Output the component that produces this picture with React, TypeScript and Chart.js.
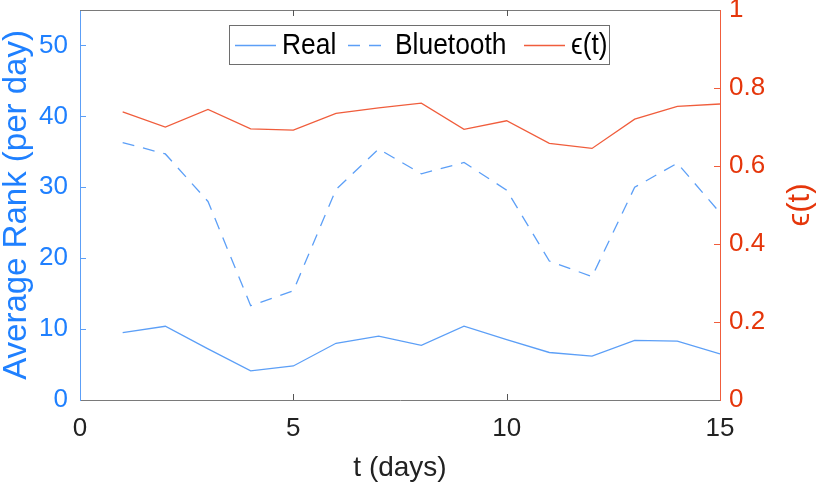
import React, { useEffect, useRef } from 'react';
import { Chart, registerables } from 'chart.js';

Chart.register(...registerables);

const days = [1, 2, 3, 4, 5, 6, 7, 8, 9, 10, 11, 12, 13, 14, 15];
const realRank = [9.5, 10.4, 7.2, 4.1, 4.8, 8.0, 9.0, 7.7, 10.4, 8.5, 6.7, 6.2, 8.4, 8.3, 6.5];
const bluetoothRank = [36.3, 34.7, 28.0, 13.3, 15.4, 29.7, 35.4, 31.9, 33.5, 29.6, 19.6, 17.4, 30.0, 33.4, 26.4];
const epsilonValues = [0.739, 0.7, 0.745, 0.695, 0.692, 0.735, 0.749, 0.761, 0.694, 0.716, 0.658, 0.645, 0.72, 0.753, 0.759];
const xTicks = [0, 5, 10, 15];
const leftTicks = [0, 10, 20, 30, 40, 50];
const rightTicks = [0, 0.2, 0.4, 0.6, 0.8, 1];
const seriesLabels = ['Real', 'Bluetooth', 'ϵ(t)'];

const BLUE_TEXT = '#1f80ff';
const BLUE_LINE = '#5c9ff7';
const RED_TEXT = '#e5360b';
const RED_LINE = '#f05d3c';
const FONT = '"Liberation Sans", Arial, Helvetica, sans-serif';

const zeroPad = (s: any) => {
  s.paddingTop = 0;
  s.paddingBottom = 0;
  s.paddingLeft = 0;
  s.paddingRight = 0;
};

const decorPlugin = {
  id: 'decor',
  afterDraw(chart: any) {
    const { ctx, chartArea, scales } = chart;
    const { left, right, top, bottom } = chartArea;
    ctx.save();
    // top border
    ctx.strokeStyle = '#7a7a7a';
    ctx.lineWidth = 1;
    ctx.beginPath();
    ctx.moveTo(left, top + 0.5);
    ctx.lineTo(right, top + 0.5);
    ctx.stroke();
    // inward ticks
    const tl = 6;
    ctx.strokeStyle = '#555';
    xTicks.forEach((v) => {
      const px = Math.round(scales.x.getPixelForValue(v)) + 0.5;
      if (px <= left + 1 || px >= right - 1) return;
      ctx.beginPath();
      ctx.moveTo(px, bottom);
      ctx.lineTo(px, bottom - tl);
      ctx.moveTo(px, top);
      ctx.lineTo(px, top + tl);
      ctx.stroke();
    });
    ctx.strokeStyle = BLUE_LINE;
    leftTicks.forEach((v) => {
      const py = Math.round(scales.y.getPixelForValue(v)) + 0.5;
      if (py >= bottom - 1) return;
      ctx.beginPath();
      ctx.moveTo(left, py);
      ctx.lineTo(left + tl, py);
      ctx.stroke();
    });
    ctx.strokeStyle = RED_LINE;
    rightTicks.forEach((v) => {
      const py = Math.round(scales.y1.getPixelForValue(v)) + 0.5;
      if (py >= bottom - 1 || py <= top + 1) return;
      ctx.beginPath();
      ctx.moveTo(right, py);
      ctx.lineTo(right - tl, py);
      ctx.stroke();
    });

    // right axis title, reading bottom to top
    ctx.fillStyle = RED_TEXT;
    ctx.font = `31px ${FONT}`;
    ctx.textAlign = 'center';
    ctx.textBaseline = 'middle';
    ctx.translate(800, (top + bottom) / 2);
    ctx.rotate(-Math.PI / 2);
    ctx.fillText(seriesLabels[2], 0, 0);
    ctx.restore();

    // legend
    ctx.save();
    const bx = 229.5, by = 25.5, bw = 380, bh = 39;
    ctx.fillStyle = '#fff';
    ctx.fillRect(bx, by, bw, bh);
    ctx.strokeStyle = '#6e6e6e';
    ctx.lineWidth = 1;
    ctx.strokeRect(bx, by, bw, bh);
    const starts = [235, 348, 524];
    const ly = 45;
    chart.data.datasets.forEach((ds: any, i: number) => {
      const x0 = starts[i];
      ctx.strokeStyle = ds.borderColor;
      ctx.lineWidth = 1.3;
      ctx.setLineDash(ds.borderDash || []);
      ctx.beginPath();
      ctx.moveTo(x0, ly + 0.5);
      ctx.lineTo(x0 + 41, ly + 0.5);
      ctx.stroke();
      ctx.setLineDash([]);
      ctx.save();
      ctx.translate(x0 + 47, ly + 1);
      ctx.scale(0.88, 1);
      ctx.font = `30px ${FONT}`;
      ctx.textAlign = 'left';
      ctx.textBaseline = 'middle';
      ctx.fillStyle = '#000';
      ctx.fillText(ds.label, 0, 0);
      ctx.restore();
    });
    ctx.restore();
  },
};

export default function App() {
  const ref = useRef<HTMLCanvasElement>(null);
  useEffect(() => {
    document.body.style.margin = '0';
    const toPts = (ys: number[]) => days.map((d, i) => ({ x: d, y: ys[i] }));
    const chart = new Chart(ref.current as HTMLCanvasElement, {
      type: 'line',
      data: {
        datasets: [
          {
            label: seriesLabels[0],
            data: toPts(realRank),
            borderColor: BLUE_LINE,
            borderWidth: 1.3,
            pointRadius: 0,
            yAxisID: 'y',
          },
          {
            label: seriesLabels[1],
            data: toPts(bluetoothRank),
            borderColor: BLUE_LINE,
            borderWidth: 1.3,
            borderDash: [12, 9],
            pointRadius: 0,
            yAxisID: 'y',
          },
          {
            label: seriesLabels[2],
            data: toPts(epsilonValues),
            borderColor: RED_LINE,
            borderWidth: 1.3,
            pointRadius: 0,
            yAxisID: 'y1',
          },
        ],
      },
      options: {
        responsive: false,
        animation: false,
        devicePixelRatio: 1,
        layout: { padding: { top: 10, left: 0, right: 0, bottom: 0 } },
        plugins: { legend: { display: false }, tooltip: { enabled: false } },
        scales: {
          x: {
            type: 'linear',
            min: 0,
            max: 15,
            afterBuildTicks: (s: any) => {
              s.ticks = xTicks.map((v) => ({ value: v }));
            },
            afterFit: (s: any) => {
              s.height = 88;
              zeroPad(s);
            },
            grid: { display: true, drawOnChartArea: false, drawTicks: false },
            border: { display: true, color: '#7a7a7a', width: 1 },
            ticks: {
              padding: 13,
              color: '#222',
              font: { size: 26, family: FONT },
              maxRotation: 0,
              callback: (v: any) => String(v),
            },
            title: {
              display: true,
              text: 't (days)',
              color: '#222',
              font: { size: 28, family: FONT, lineHeight: 1 },
              padding: { top: 0, bottom: 6 },
            },
          },
          y: {
            type: 'linear',
            position: 'left',
            min: 0,
            max: 55,
            afterBuildTicks: (s: any) => {
              s.ticks = leftTicks.map((v) => ({ value: v }));
            },
            afterFit: (s: any) => {
              s.width = 80;
              zeroPad(s);
            },
            grid: { display: true, drawOnChartArea: false, drawTicks: false },
            border: { display: true, color: BLUE_LINE, width: 1 },
            ticks: {
              padding: 12,
              color: BLUE_TEXT,
              font: { size: 26, family: FONT },
              callback: (v: any) => String(v),
            },
            title: {
              display: true,
              text: 'Average Rank (per day)',
              color: BLUE_TEXT,
              font: { size: 33, family: FONT, lineHeight: 1 },
              padding: { top: 0, bottom: 0 },
            },
          },
          y1: {
            type: 'linear',
            position: 'right',
            min: 0,
            max: 1,
            afterBuildTicks: (s: any) => {
              s.ticks = rightTicks.map((v) => ({ value: v }));
            },
            afterFit: (s: any) => {
              s.width = 96;
              zeroPad(s);
            },
            grid: { display: true, drawOnChartArea: false, drawTicks: false },
            border: { display: true, color: RED_LINE, width: 1 },
            ticks: {
              padding: 9,
              color: RED_TEXT,
              font: { size: 26, family: FONT },
              callback: (v: any) => String(Math.round(v * 10) / 10),
            },
          },
        },
      },
      plugins: [decorPlugin],
    });
    return () => chart.destroy();
  }, []);
  return (
    <div style={{ width: 816, height: 488 }}>
      <canvas ref={ref} width={816} height={488} style={{ display: 'block' }} />
    </div>
  );
}
